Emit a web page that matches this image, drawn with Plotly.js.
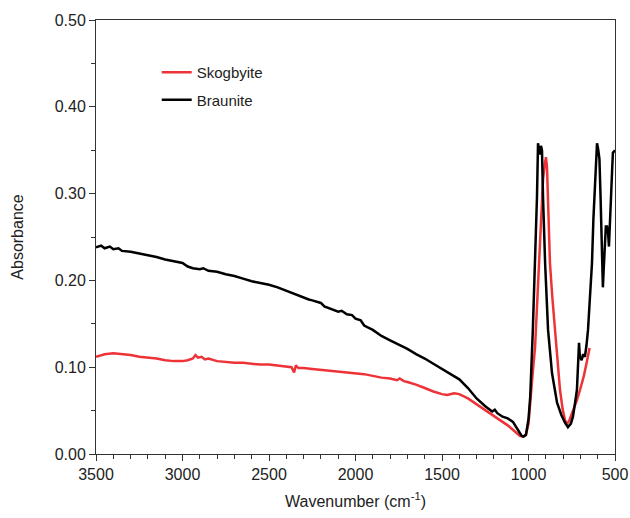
<!DOCTYPE html>
<html>
<head>
<meta charset="utf-8">
<script src="https://cdn.plot.ly/plotly-3.0.1.min.js"></script>
<style>html,body{margin:0;padding:0;background:#fff;}#chart{width:630px;height:518px;}</style>
</head>
<body>
<div id="chart"></div>
<script>
// Braunite (black)
const braunite_wn = [3500,3470,3450,3420,3400,3370,3350,3300,3250,3200,3150,3100,3050,3000,2970,2940,2900,2880,2850,2800,2750,2700,2650,2600,2550,2500,2450,2400,2350,2300,2270,2250,2200,2180,2150,2120,2100,2080,2050,2020,2000,1970,1950,1900,1850,1800,1750,1700,1650,1600,1550,1500,1450,1400,1350,1300,1250,1210,1195,1180,1150,1120,1090,1060,1040,1030,1015,1000,990,975,962,951,945,935,928,922,916,904,887,864,835,810,789,772,755,743,730,720,712,708,703,693,684,674,665,656,645,633,625,616,608,604,598,590,584,578,574,570,566,560,553,546,540,535,530,523,516,512,500];
const braunite_abs = [0.238,0.240,0.237,0.239,0.236,0.237,0.234,0.233,0.231,0.229,0.227,0.224,0.222,0.220,0.216,0.214,0.213,0.214,0.211,0.210,0.207,0.205,0.202,0.199,0.197,0.195,0.192,0.188,0.184,0.180,0.178,0.177,0.174,0.170,0.168,0.166,0.164,0.165,0.161,0.160,0.156,0.154,0.148,0.143,0.136,0.131,0.126,0.121,0.115,0.110,0.104,0.098,0.093,0.086,0.076,0.064,0.055,0.049,0.051,0.047,0.043,0.041,0.037,0.028,0.021,0.020,0.022,0.040,0.066,0.143,0.220,0.296,0.358,0.345,0.355,0.350,0.296,0.220,0.143,0.093,0.059,0.045,0.036,0.031,0.035,0.043,0.060,0.074,0.110,0.128,0.112,0.108,0.115,0.112,0.125,0.143,0.180,0.220,0.270,0.316,0.345,0.358,0.352,0.340,0.300,0.258,0.215,0.192,0.210,0.239,0.262,0.262,0.255,0.239,0.270,0.296,0.330,0.347,0.350];

// Skogbyite (red)
const skog_wn = [3500,3450,3400,3350,3300,3250,3200,3150,3100,3050,3000,2970,2940,2925,2910,2890,2870,2850,2800,2750,2700,2650,2600,2550,2500,2450,2400,2370,2355,2345,2330,2300,2250,2200,2150,2100,2050,2000,1950,1900,1850,1800,1760,1745,1720,1700,1650,1600,1550,1500,1470,1430,1400,1350,1300,1250,1200,1165,1120,1080,1050,1030,1015,1000,991,975,962,948,934,925,916,905,899,893,887,876,862,847,832,818,803,789,778,765,743,720,702,680,664,652,647];
const skog_abs = [0.112,0.115,0.116,0.115,0.114,0.112,0.111,0.110,0.108,0.107,0.107,0.108,0.110,0.114,0.111,0.112,0.109,0.110,0.107,0.106,0.105,0.105,0.104,0.103,0.103,0.102,0.101,0.100,0.094,0.102,0.099,0.099,0.098,0.097,0.096,0.095,0.094,0.093,0.092,0.090,0.088,0.087,0.085,0.087,0.084,0.083,0.080,0.076,0.072,0.069,0.068,0.070,0.069,0.064,0.057,0.050,0.044,0.039,0.033,0.026,0.021,0.020,0.022,0.035,0.059,0.095,0.123,0.180,0.239,0.280,0.316,0.335,0.342,0.330,0.296,0.220,0.180,0.143,0.105,0.074,0.052,0.039,0.035,0.038,0.050,0.062,0.074,0.090,0.105,0.118,0.122];

const xTickVals = [3500,3000,2500,2000,1500,1000,500];
const yTickVals = [0.00,0.10,0.20,0.30,0.40,0.50];

const font = 'Liberation Sans, Arial, sans-serif';

const traces = [
  {x: skog_wn, y: skog_abs, type: 'scatter', mode: 'lines', name: 'Skogbyite', legendgroup: 'a',
   line: {color: '#ee3338', width: 2.5}},
  {x: braunite_wn, y: braunite_abs, type: 'scatter', mode: 'lines', name: 'Braunite', legendgroup: 'b',
   line: {color: '#000000', width: 2.5}}
];

const layout = {
  width: 630, height: 518,
  margin: {l: 96, r: 15, t: 20, b: 64},
  paper_bgcolor: '#fff', plot_bgcolor: '#fff',
  font: {family: font, size: 16, color: '#222'},
  showlegend: true,
  legend: {x: 0.117, y: 0.917, xanchor: 'left', yanchor: 'top', bgcolor: 'rgba(0,0,0,0)',
           traceorder: 'grouped', tracegroupgap: 5,
           font: {family: font, size: 15, color: '#222'}, itemwidth: 30},
  xaxis: {
    range: [3500, 500], tickvals: xTickVals, ticktext: xTickVals.map(String),
    ticks: 'outside', ticklen: 6, tickcolor: '#333', tickwidth: 1,
    showline: true, linecolor: '#333', linewidth: 1, mirror: true,
    showgrid: false, zeroline: false,
    minor: {dtick: 100, tick0: 500, ticks: 'outside', ticklen: 4, tickcolor: '#333', showgrid: false},
    tickfont: {family: font, size: 16, color: '#222'},
    title: {text: 'Wavenumber (cm<sup>-1</sup>)', font: {family: font, size: 16, color: '#222'}, standoff: 13}
  },
  yaxis: {
    range: [0, 0.5], tickvals: yTickVals, ticktext: yTickVals.map(v => v.toFixed(2)),
    ticks: 'outside', ticklen: 6, tickcolor: '#333', tickwidth: 1,
    showline: true, linecolor: '#333', linewidth: 1, mirror: true,
    showgrid: false, zeroline: false,
    minor: {dtick: 0.05, tick0: 0, ticks: 'outside', ticklen: 4, tickcolor: '#333', showgrid: false},
    tickfont: {family: font, size: 16, color: '#222'},
    title: {text: 'Absorbance', font: {family: font, size: 16, color: '#222'}, standoff: 27}
  }
};

Plotly.newPlot('chart', traces, layout, {displayModeBar: false, staticPlot: true});
</script>
</body>
</html>
